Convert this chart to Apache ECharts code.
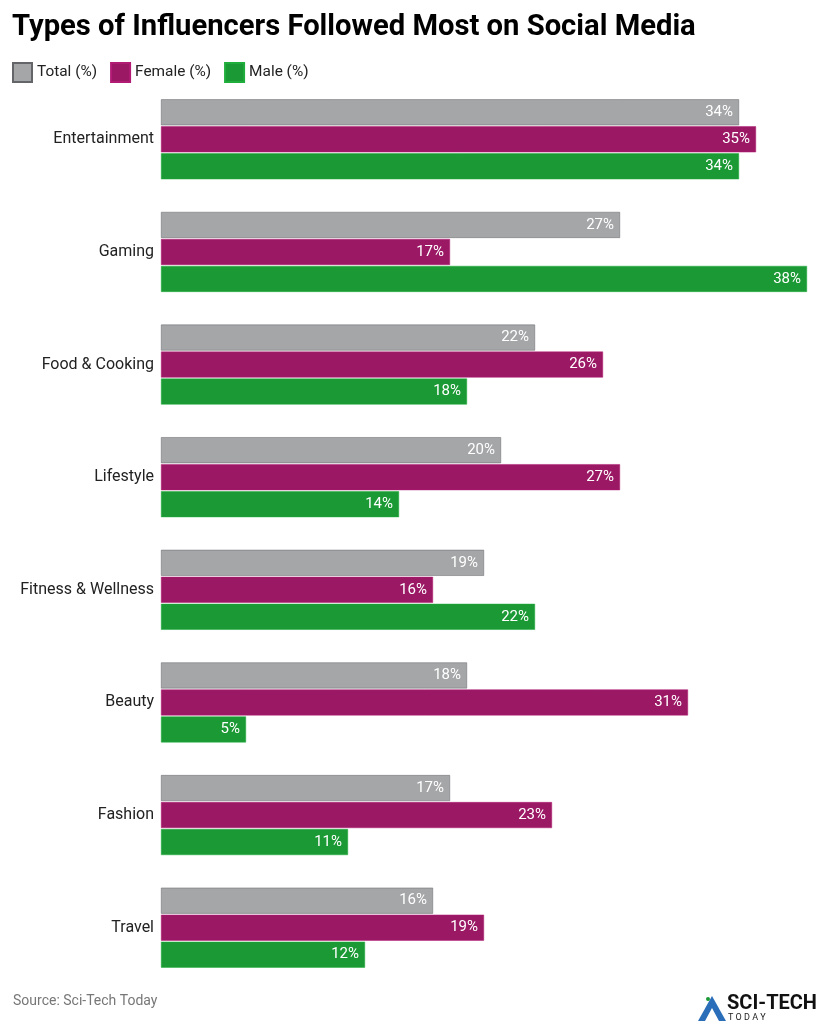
<!DOCTYPE html>
<html>
<head>
<meta charset="utf-8">
<script src="https://cdn.jsdelivr.net/npm/echarts@6/dist/echarts.min.js"></script>
<style>
  html, body { margin: 0; padding: 0; background: #fff; }
  #chart { width: 821px; height: 1024px; }
</style>
</head>
<body>
<div id="chart"></div>
<script>
const categories = ["Entertainment", "Gaming", "Food & Cooking", "Lifestyle", "Fitness & Wellness", "Beauty", "Fashion", "Travel"];
const totalValues = [34, 27, 22, 20, 19, 18, 17, 16];
const femaleValues = [35, 17, 26, 27, 16, 31, 23, 19];
const maleValues = [34, 38, 18, 14, 22, 5, 11, 12];
const seriesNames = ["Total (%)", "Female (%)", "Male (%)"];
const colors = ["#a5a6a8", "#9b1865", "#1b9934"];

const chart = echarts.init(document.getElementById("chart"));

const label = {
  show: true,
  position: "insideRight",
  formatter: "{c}%",
  color: "#fff",
  fontFamily: "Roboto",
  fontSize: 15,
  distance: 6
};

function bar(name, data, i) {
  return {
    name: name,
    type: "bar",
    data: data,
    barGap: "4%",
    barCategoryGap: "29%",
    itemStyle: { color: colors[i], borderColor: echarts.color.modifyHSL(colors[i], null, null, 0.4), borderWidth: 0.5 },
    label: label
  };
}

chart.setOption({
  animation: false,
  backgroundColor: "#fff",
  textStyle: { fontFamily: "Roboto" },
  title: {
    text: "Types of Influencers Followed Most on Social Media",
    left: 12,
    top: 13,
    padding: 0,
    textStyle: { fontFamily: "Roboto", fontSize: 29.2, fontWeight: "bold", color: "#000" }
  },
  legend: {
    left: 12,
    top: 62,
    padding: 0,
    itemWidth: 19,
    itemHeight: 19,
    itemGap: 13,
    icon: "rect",
    textStyle: { fontFamily: "Roboto", fontSize: 15.4, color: "#222" },
    data: seriesNames
  },
  grid: { left: 161, right: 14, top: 83, bottom: 40 },
  xAxis: {
    type: "value",
    min: 0,
    max: 38,
    show: false
  },
  yAxis: {
    type: "category",
    data: categories,
    inverse: true,
    axisLine: { show: false },
    axisTick: { show: false },
    axisLabel: { color: "#222", fontFamily: "Roboto", fontSize: 16, margin: 7 }
  },
  series: [
    bar(seriesNames[0], totalValues, 0),
    bar(seriesNames[1], femaleValues, 1),
    bar(seriesNames[2], maleValues, 2)
  ],
  graphic: [
    {
      type: "text",
      left: 13,
      top: 994,
      style: { text: "Source: Sci-Tech Today", fontFamily: "Roboto", fontSize: 14, fill: "#777" }
    },
    {
      type: "polygon",
      shape: { points: [[698, 1021], [712, 996], [726, 1021]] },
      style: { fill: "#2a6db8" }
    },
    {
      type: "polygon",
      shape: { points: [[705, 1021], [712, 1008], [719, 1021]] },
      style: { fill: "#fff" }
    },
    {
      type: "circle",
      shape: { cx: 708, cy: 999, r: 2 },
      style: { fill: "#1b9934" }
    },
    {
      type: "text",
      left: 727,
      top: 994,
      style: { text: "SCI-TECH", fontFamily: "Roboto", fontSize: 20, fontWeight: "bold", fill: "#111" }
    },
    {
      type: "text",
      left: 728,
      top: 1013,
      style: { text: "T O D A Y", fontFamily: "Roboto", fontSize: 9, fill: "#222" }
    }
  ]
});
</script>
</body>
</html>
